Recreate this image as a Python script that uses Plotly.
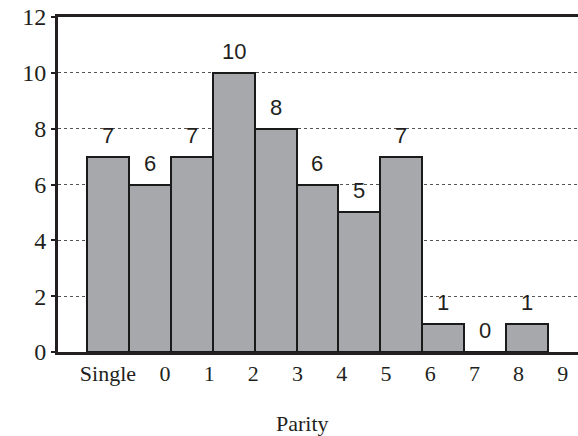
import plotly.graph_objects as go

categories = ["Single", "0", "1", "2", "3", "4", "5", "6", "7", "8", "9"]
counts = [7, 6, 7, 10, 8, 6, 5, 7, 1, 0, 1]
tick_labels = ["Single", "0", "1", "2", "3", "4", "5", "6", "7", "8", "9"]
y_ticks = [0, 2, 4, 6, 8, 10, 12]

x_idx = list(range(len(categories)))
# tick label positions as drawn in the original (slightly wider spacing than bars)
tick_pos = [0] + [1.36 + 1.055 * k for k in range(len(tick_labels) - 1)]

fig = go.Figure()
fig.add_trace(go.Bar(
    x=x_idx, y=counts, width=1,
    marker=dict(color="#a7a8ab", line=dict(color="#1a1a1a", width=2)),
    hoverinfo="skip",
))

for xi, v in zip(x_idx, counts):
    fig.add_annotation(x=xi, y=v, text=str(v), showarrow=False,
                       yanchor="bottom", yshift=7,
                       font=dict(family="Liberation Sans, Arial", size=22, color="#231f20"))

fig.add_annotation(x=0.471, y=0, xref="paper", yref="paper", yanchor="top",
                   xanchor="center", yshift=-57, text="Parity", showarrow=False,
                   font=dict(family="Liberation Serif, Times New Roman", size=22, color="#231f20"))

fig.update_layout(
    width=578, height=436,
    margin=dict(l=58, r=0, t=17, b=84),
    paper_bgcolor="white", plot_bgcolor="white",
    showlegend=False,
    bargap=0,
    xaxis=dict(
        range=[-1.192, 11.218],
        tickvals=tick_pos, ticktext=tick_labels,
        showgrid=False, zeroline=False,
        showline=True, linecolor="#231f20", linewidth=3, mirror=True,
        ticks="", ticklabelstandoff=0,
        tickfont=dict(family="Liberation Serif, Times New Roman", size=22, color="#231f20"),
    ),
    yaxis=dict(
        range=[0, 12], tickvals=y_ticks,
        showgrid=True, gridcolor="#555555", griddash="dot", gridwidth=1,
        zeroline=False,
        showline=True, linecolor="#231f20", linewidth=3,
        ticks="outside", ticklen=4, tickwidth=2, tickcolor="#231f20",
        tickfont=dict(family="Liberation Serif, Times New Roman", size=24, color="#231f20"),
    ),
)

fig.write_html("out.html",
               config={"displayModeBar": False},
               post_script="document.body.style.margin='0';document.body.style.overflow='hidden';")
